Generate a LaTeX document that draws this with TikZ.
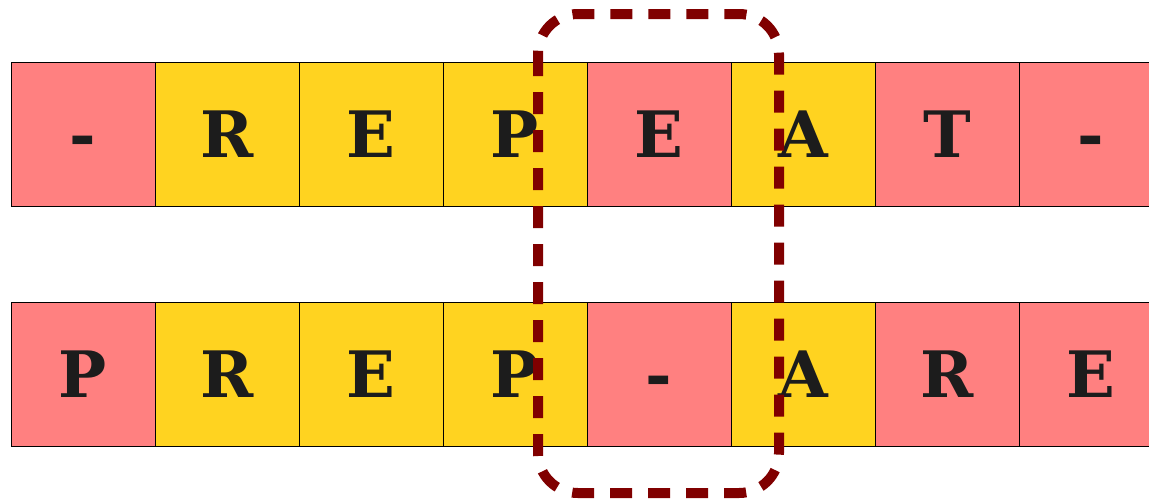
\documentclass[tikz,border=0pt]{standalone}
\usepackage{fontspec}
\setmainfont{DejaVu Serif}
\usetikzlibrary{positioning}

\definecolor{gapred}{HTML}{FF8080}
\definecolor{matchyel}{HTML}{FFD320}
\definecolor{selred}{HTML}{800000}
\definecolor{ink}{HTML}{1C1C1C}

\begin{document}
\begin{tikzpicture}[
    x=0.75pt, y=-0.75pt,
    cell/.style={draw=black, line width=0.6pt, rectangle, minimum size=108pt,
                 inner sep=0pt, text=ink, text height=35pt, text depth=0pt,
                 font=\fontsize{48}{58}\selectfont\bfseries},
    gap/.style={cell, fill=gapred},
    hit/.style={cell, fill=matchyel},
    sel/.style={draw=selred, line width=7.5pt, rounded corners=30pt,
                dash pattern=on 16.5pt off 12pt},
]
\useasboundingbox (0,0) rectangle (1149,501);
\clip (0,0) rectangle (1149,501);

% === Top row: -REPEAT- ===
\node[gap] (t1) at (83, 134) {-};
\node[hit] (t2) at (227, 134) {R};
\node[hit] (t3) at (371, 134) {E};
\node[hit] (t4) at (515, 134) {P};
\node[gap] (t5) at (659, 134) {E};
\node[hit] (t6) at (803, 134) {A};
\node[gap] (t7) at (947, 134) {T};
\node[gap] (t8) at (1091, 134) {-};

% === Bottom row: PREP-ARE ===
\node[gap] (b1) at (83, 374) {P};
\node[hit] (b2) at (227, 374) {R};
\node[hit] (b3) at (371, 374) {E};
\node[hit] (b4) at (515, 374) {P};
\node[gap] (b5) at (659, 374) {-};
\node[hit] (b6) at (803, 374) {A};
\node[gap] (b7) at (947, 374) {R};
\node[gap] (b8) at (1091, 374) {E};

% === Highlighted columns ===
\draw[sel] (538, 14) rectangle (779, 493);

\end{tikzpicture}
\end{document}
